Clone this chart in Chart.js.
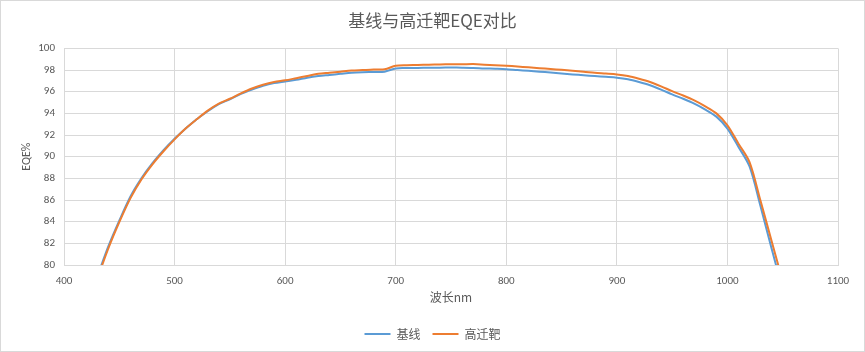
<!DOCTYPE html>
<html>
<head>
<meta charset="utf-8">
<script src="https://cdn.jsdelivr.net/npm/chart.js@4"></script>
<style>
    html, body { margin: 0; padding: 0; background: #fff; }
    #wrap { width: 865px; height: 352px; box-sizing: border-box; border: 1px solid #d9d9d9; background: #fff; }
    canvas { display: block; }
</style>
</head>
<body>
<div id="wrap"><canvas id="chart" width="863" height="350"></canvas></div>
<script>
const wavelengths = [430, 440, 450, 460, 470, 480, 490, 500, 510, 520,
    530, 540, 550, 560, 570, 580, 590, 600, 610, 620,
    630, 640, 650, 660, 670, 680, 690, 700, 710, 720,
    730, 740, 750, 760, 770, 780, 790, 800, 810, 820,
    830, 840, 850, 860, 870, 880, 890, 900, 910, 920,
    930, 940, 950, 960, 970, 980, 990, 1000, 1010, 1020,
    1030, 1040, 1050];

// 基线
const baseline = [78.9, 81.7, 84.1, 86.3, 88.0, 89.4, 90.6, 91.65, 92.6, 93.45,
    94.2, 94.85, 95.3, 95.8, 96.2, 96.55, 96.8, 96.95, 97.1, 97.3,
    97.45, 97.55, 97.65, 97.75, 97.8, 97.82, 97.85, 98.15, 98.18, 98.2,
    98.22, 98.22, 98.23, 98.22, 98.2, 98.15, 98.12, 98.08, 98.0, 97.93,
    97.85, 97.77, 97.68, 97.6, 97.52, 97.45, 97.38, 97.3, 97.15, 96.9,
    96.6, 96.2, 95.75, 95.35, 94.9, 94.35, 93.7, 92.6, 90.9, 89.1,
    85.4, 81.5, 77.7];

// 高迁靶
const highMobility = [78.7, 81.5, 83.95, 86.15, 87.9, 89.3, 90.5, 91.6, 92.6, 93.45,
    94.25, 94.9, 95.35, 95.85, 96.3, 96.65, 96.9, 97.05, 97.25, 97.45,
    97.65, 97.75, 97.85, 97.95, 98.0, 98.05, 98.07, 98.4, 98.45, 98.47,
    98.5, 98.52, 98.53, 98.53, 98.55, 98.5, 98.45, 98.4, 98.33, 98.25,
    98.17, 98.1, 98.02, 97.93, 97.85, 97.75, 97.68, 97.6, 97.45, 97.2,
    96.9, 96.5, 96.05, 95.65, 95.2, 94.65, 94.0, 92.9, 91.2, 89.5,
    85.9, 82.2, 78.5];

const xTicks = [400, 500, 600, 700, 800, 900, 1000, 1100];
const yTicks = [80, 82, 84, 86, 88, 90, 92, 94, 96, 98, 100];

const textColor = '#595959';
const gridColor = '#d9d9d9';
const fontFamily = 'Calibri, Carlito, "Liberation Sans", "Noto Sans CJK SC", sans-serif';
const cjkFont = '"Noto Sans CJK SC", "Microsoft YaHei", sans-serif';

function toPoints(vals) {
    return wavelengths.map((w, i) => ({ x: w, y: vals[i] }));
}

const ctx = document.getElementById('chart').getContext('2d');
new Chart(ctx, {
    type: 'line',
    data: {
        datasets: [
            {
                label: '基线',
                data: toPoints(baseline),
                borderColor: '#5b9bd5',
                backgroundColor: '#5b9bd5',
                borderWidth: 2,
                pointRadius: 0,
                tension: 0.3,
                fill: false,
                order: 1
            },
            {
                label: '高迁靶',
                data: toPoints(highMobility),
                borderColor: '#ed7d31',
                backgroundColor: '#ed7d31',
                borderWidth: 2,
                pointRadius: 0,
                tension: 0.3,
                fill: false,
                order: 0
            }
        ]
    },
    options: {
        responsive: false,
        animation: false,
        layout: { padding: { left: 0, right: 0, top: 0, bottom: 1 } },
        plugins: {
            title: {
                display: true,
                text: '基线与高迁靶EQE对比',
                color: textColor,
                font: { family: cjkFont, size: 17, weight: 'normal' },
                padding: { top: 9, bottom: 18 }
            },
            legend: {
                position: 'bottom',
                labels: {
                    usePointStyle: true,
                    pointStyle: 'line',
                    pointStyleWidth: 26,
                    color: textColor,
                    font: { family: cjkFont, size: 12 },
                    padding: 12,
                    sort: (a, b) => a.datasetIndex - b.datasetIndex
                }
            },
            tooltip: { enabled: false }
        },
        scales: {
            x: {
                type: 'linear',
                min: 400,
                max: 1100,
                afterBuildTicks: s => { s.ticks = xTicks.map(v => ({ value: v })); },
                ticks: {
                    color: textColor,
                    font: { family: fontFamily, size: 11 },
                    padding: 10,
                    maxRotation: 0,
                    callback: v => String(v)
                },
                grid: { color: gridColor, drawTicks: false },
                border: { color: gridColor },
                title: {
                    display: true,
                    text: '波长nm',
                    color: textColor,
                    font: { family: cjkFont, size: 12 },
                    padding: { top: 0, bottom: 11 }
                },
                afterFit: s => { s.height = 51; }
            },
            y: {
                min: 80,
                max: 100,
                afterBuildTicks: s => { s.ticks = yTicks.map(v => ({ value: v })); },
                ticks: {
                    color: textColor,
                    font: { family: fontFamily, size: 11 },
                    padding: 9,
                    callback: v => String(v)
                },
                grid: { color: gridColor, drawTicks: false },
                border: { display: false },
                title: {
                    display: true,
                    text: 'EQE%',
                    color: textColor,
                    font: { family: fontFamily, size: 12 },
                    padding: { top: 19, bottom: 0 }
                },
                afterFit: s => { s.width = 63; }
            },
            // empty right-hand strip so the plot ends at 1100 like the original
            yRight: {
                position: 'right',
                display: true,
                grid: { display: false },
                ticks: { display: false },
                border: { display: false },
                afterFit: s => { s.width = 26; }
            }
        }
    }
});
</script>
</body>
</html>
